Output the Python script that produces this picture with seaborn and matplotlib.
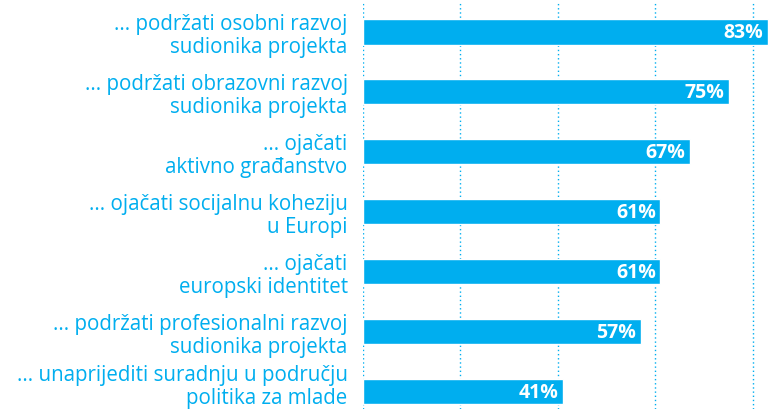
import matplotlib
matplotlib.use("Agg")
import matplotlib.pyplot as plt
from matplotlib.transforms import ScaledTranslation
import seaborn as sns
import pandas as pd

categories = [
    "... podržati osobni razvoj\nsudionika projekta",
    "... podržati obrazovni razvoj\nsudionika projekta",
    "... ojačati\naktivno građanstvo",
    "... ojačati socijalnu koheziju\nu Europi",
    "... ojačati\neuropski identitet",
    "... podržati profesionalni razvoj\nsudionika projekta",
    "... unaprijediti suradnju u području\npolitika za mlade",
]
values = [83, 75, 67, 61, 61, 57, 41]
gridticks = [0, 20, 40, 60, 80]

BLUE = "#00AEEF"

sns.set_theme(style="white")
plt.rcParams["font.family"] = ["Open Sans", "DejaVu Sans"]

df = pd.DataFrame({"cat": categories, "val": values})

fig = plt.figure(figsize=(7.69, 4.10), dpi=100)
ax = fig.add_axes([363 / 769, 0, 1 - 363 / 769, 1 - 3 / 410])

sns.barplot(data=df, y="cat", x="val", orient="h", color=BLUE,
            width=0.42, saturation=1, ax=ax, zorder=3)

ax.set_xlim(0, 83.3)
ax.set_ylim(6.29, -0.5)
ax.set_xticks(gridticks)
ax.xaxis.grid(True, color=BLUE, linestyle=(0, (1, 2)), linewidth=1.0, zorder=0)
ax.yaxis.grid(False)
ax.tick_params(axis="x", bottom=False, labelbottom=False)
ax.tick_params(axis="y", left=False, pad=5)
for s in ax.spines.values():
    s.set_visible(False)
ax.set_xlabel("")
ax.set_ylabel("")
labels = ax.get_yticklabels()
for lbl in labels:
    lbl.set_color(BLUE)
    lbl.set_fontsize(14.8)
    lbl.set_horizontalalignment("right")
    lbl.set_multialignment("right")
    lbl.set_linespacing(1.12)
labels[-1].set_transform(labels[-1].get_transform()
                         + ScaledTranslation(0, 9 / 100, fig.dpi_scale_trans))

for i, v in enumerate(values):
    ax.text(v - 0.9, i, f"{v}%", color="white", fontweight="bold",
            fontsize=14, ha="right", va="center", zorder=4)

fig.savefig("out.png", dpi=100)
